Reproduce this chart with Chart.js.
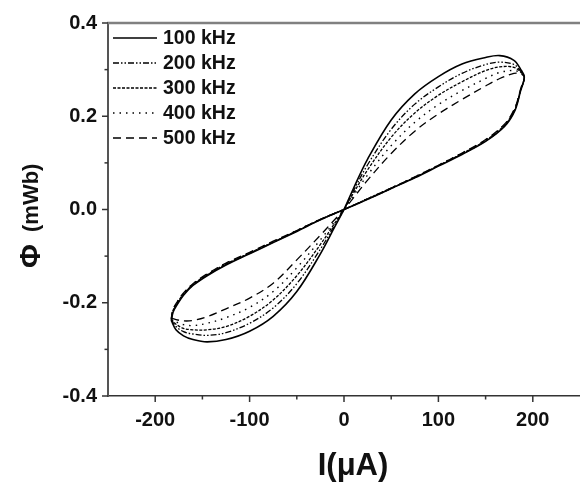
<!DOCTYPE html>
<html>
<head>
<meta charset="utf-8">
<script src="https://cdn.jsdelivr.net/npm/chart.js@4.4.1/dist/chart.umd.min.js"></script>
<style>
  html, body { margin: 0; padding: 0; background: #fff; overflow: hidden; }
  #wrap { width: 580px; height: 484px; }
</style>
</head>
<body>
<div id="wrap"><canvas id="chart" width="580" height="484"></canvas></div>
<script>
// one closed loop per frequency: left tip -> lower branch -> origin -> upper branch -> right tip -> back
const currentPath = [-183, -178, -170, -160, -145, -125, -100, -75, -50, -25, -10, 0,
  10, 25, 50, 75, 100, 125, 150, 165, 180, 187, 191,
  187, 181, 170, 150, 125, 100, 75, 50, 25, 0,
  -25, -50, -75, -100, -125, -145, -160, -170, -177, -181, -183];

const frequencyLabels = ["100 kHz", "200 kHz", "300 kHz", "400 kHz", "500 kHz"];

const flux100 = [-0.238, -0.258, -0.271, -0.279, -0.284, -0.279, -0.261, -0.229, -0.176, -0.095, -0.038, 0,
  0.045, 0.108, 0.192, 0.248, 0.285, 0.312, 0.326, 0.330, 0.320, 0.301, 0.284,
  0.254, 0.212, 0.178, 0.146, 0.118, 0.093, 0.068, 0.045, 0.022, 0,
  -0.022, -0.047, -0.071, -0.095, -0.119, -0.142, -0.163, -0.184, -0.205, -0.220, -0.238];
const flux200 = [-0.236, -0.251, -0.262, -0.267, -0.270, -0.264, -0.244, -0.211, -0.159, -0.085, -0.034, 0,
  0.040, 0.096, 0.172, 0.226, 0.263, 0.292, 0.311, 0.316, 0.311, 0.297, 0.284,
  0.255, 0.214, 0.179, 0.147, 0.119, 0.094, 0.069, 0.045, 0.022, 0,
  -0.022, -0.046, -0.070, -0.094, -0.118, -0.141, -0.162, -0.182, -0.203, -0.218, -0.236];
const flux300 = [-0.235, -0.246, -0.255, -0.258, -0.258, -0.251, -0.229, -0.194, -0.142, -0.075, -0.030, 0,
  0.035, 0.085, 0.155, 0.207, 0.245, 0.274, 0.298, 0.306, 0.305, 0.295, 0.284,
  0.256, 0.215, 0.181, 0.148, 0.120, 0.094, 0.069, 0.046, 0.023, 0,
  -0.021, -0.046, -0.070, -0.093, -0.117, -0.140, -0.161, -0.181, -0.201, -0.216, -0.235];
const flux400 = [-0.234, -0.241, -0.247, -0.249, -0.244, -0.232, -0.210, -0.176, -0.125, -0.065, -0.026, 0,
  0.030, 0.074, 0.137, 0.187, 0.225, 0.255, 0.281, 0.294, 0.298, 0.293, 0.284,
  0.257, 0.217, 0.182, 0.149, 0.121, 0.095, 0.070, 0.046, 0.023, 0,
  -0.021, -0.045, -0.069, -0.093, -0.116, -0.139, -0.160, -0.180, -0.200, -0.215, -0.234];
const flux500 = [-0.233, -0.236, -0.239, -0.238, -0.230, -0.213, -0.190, -0.158, -0.108, -0.055, -0.022, 0,
  0.025, 0.063, 0.120, 0.168, 0.205, 0.236, 0.265, 0.281, 0.292, 0.291, 0.284,
  0.258, 0.218, 0.183, 0.150, 0.121, 0.095, 0.070, 0.046, 0.023, 0,
  -0.021, -0.045, -0.068, -0.092, -0.115, -0.138, -0.159, -0.179, -0.199, -0.214, -0.233];

const xMajorTicks = [-200, -100, 0, 100, 200];
const xMinorTicks = [-150, -50, 50, 150];
const yMajorTicks = [-0.4, -0.2, 0, 0.2, 0.4];
const yMinorTicks = [-0.3, -0.1, 0.1, 0.3];

const fluxSeries = [flux100, flux200, flux300, flux400, flux500];
const dashes = [[], [6, 2, 1.5, 2, 1.5, 2], [3, 1.5], [1.5, 5], [8, 5]];
const widths = [1.6, 1.3, 1.3, 1.4, 1.3];

const FONT = "'Liberation Sans', Arial, sans-serif";

const datasets = fluxSeries.map((flux, i) => ({
  label: frequencyLabels[i],
  data: currentPath.map((x, j) => ({ x: x, y: flux[j] })),
  showLine: true,
  borderColor: "#000",
  borderWidth: widths[i],
  borderDash: dashes[i],
  pointRadius: 0,
  tension: 0.35,
  fill: false,
}));

const decorations = {
  id: "decorations",
  afterDraw(chart) {
    const { ctx, chartArea: { left, right, top, bottom }, scales: { x, y } } = chart;
    ctx.save();

    // top frame line
    ctx.strokeStyle = "#808080";
    ctx.lineWidth = 2.5;
    ctx.beginPath();
    ctx.moveTo(left - 1, top);
    ctx.lineTo(right, top);
    ctx.stroke();

    // tick marks, outward
    ctx.strokeStyle = "#333";
    ctx.lineWidth = 1.5;
    const tickX = (v, len) => {
      const px = x.getPixelForValue(v);
      ctx.beginPath();
      ctx.moveTo(px, bottom);
      ctx.lineTo(px, bottom + len);
      ctx.stroke();
    };
    const tickY = (v, len) => {
      const py = y.getPixelForValue(v);
      ctx.beginPath();
      ctx.moveTo(left, py);
      ctx.lineTo(left - len, py);
      ctx.stroke();
    };
    xMajorTicks.forEach((v) => tickX(v, 6));
    xMinorTicks.forEach((v) => tickX(v, 3.5));
    yMajorTicks.forEach((v) => tickY(v, 6));
    yMinorTicks.forEach((v) => tickY(v, 3.5));

    // legend inside plot
    ctx.fillStyle = "#111";
    ctx.font = "bold 19.5px " + FONT;
    ctx.textBaseline = "middle";
    ctx.textAlign = "left";
    frequencyLabels.forEach((label, i) => {
      const ly = top + 15 + i * 25;
      ctx.strokeStyle = "#000";
      ctx.lineWidth = widths[i];
      ctx.setLineDash(dashes[i]);
      ctx.beginPath();
      ctx.moveTo(left + 5, ly);
      ctx.lineTo(left + 49, ly);
      ctx.stroke();
      ctx.setLineDash([]);
      ctx.fillText(label, left + 55, ly + 1);
    });

    // axis titles
    ctx.fillStyle = "#111";
    ctx.textAlign = "center";
    ctx.font = "bold 31px " + FONT;
    ctx.fillText("I(\u03bcA)", 353, 466);

    ctx.translate(32, 215);
    ctx.rotate(-Math.PI / 2);
    ctx.textAlign = "left";
    ctx.font = "bold 29px " + FONT;
    ctx.fillText("\u03a6", -53, 0);
    ctx.font = "bold 22px " + FONT;
    ctx.fillText("(mWb)", -17, 0);

    ctx.restore();
  },
};

new Chart(document.getElementById("chart"), {
  type: "scatter",
  data: { datasets: datasets },
  options: {
    responsive: false,
    animation: false,
    layout: { padding: { top: 18, right: 0, left: 0, bottom: 0 } },
    plugins: { legend: { display: false }, tooltip: { enabled: false } },
    scales: {
      x: {
        min: -250,
        max: 250,
        afterFit: (s) => { s.height = 88; },
        afterBuildTicks: (s) => { s.ticks = xMajorTicks.map((v) => ({ value: v })); },
        grid: { display: false, drawTicks: false },
        border: { display: true, color: "#333", width: 1.5 },
        ticks: {
          padding: 12,
          color: "#111",
          font: { family: FONT, size: 20, weight: "bold" },
          callback: (v) => String(v),
        },
      },
      y: {
        min: -0.4,
        max: 0.4,
        afterFit: (s) => { s.width = 108; },
        afterBuildTicks: (s) => { s.ticks = yMajorTicks.map((v) => ({ value: v })); },
        grid: { display: false, drawTicks: false },
        border: { display: true, color: "#555", width: 2 },
        ticks: {
          padding: 11,
          color: "#111",
          font: { family: FONT, size: 20, weight: "bold" },
          callback: (v) => Number(v).toFixed(1),
        },
      },
    },
  },
  plugins: [decorations],
});
</script>
</body>
</html>
